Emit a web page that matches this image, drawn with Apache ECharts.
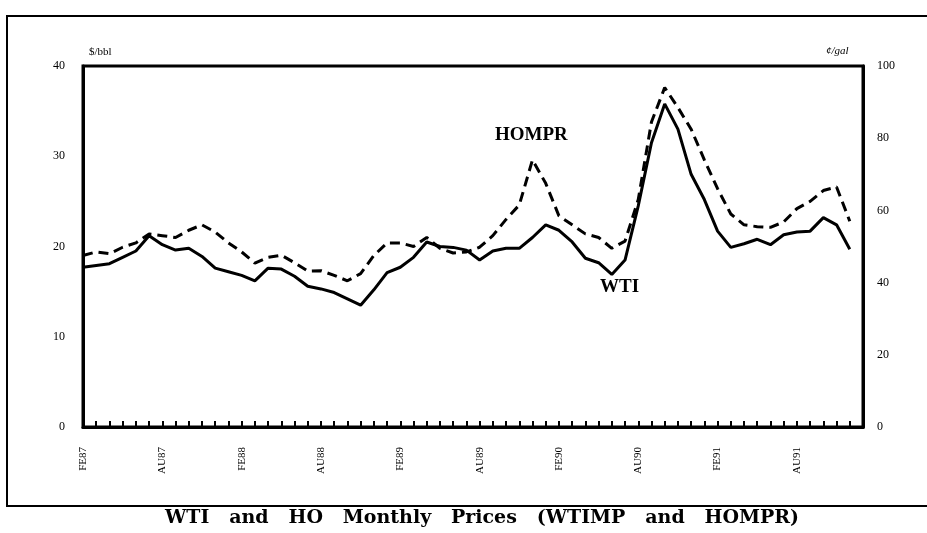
<!DOCTYPE html>
<html>
<head>
<meta charset="utf-8">
<title>WTI and HO Monthly Prices</title>
<script src="https://cdn.jsdelivr.net/npm/echarts@6/dist/echarts.min.js"></script>
<style>
    html, body { margin: 0; padding: 0; background: #fff; }
    #chart { width: 927px; height: 533px; }
</style>
</head>
<body>
<div id="chart"></div>
<script>
    // months, Feb 1987 .. Jan 1992
    var months = [
        'FE87','MR87','AP87','MY87','JN87','JL87','AU87','SE87','OC87','NO87','DE87',
        'JA88','FE88','MR88','AP88','MY88','JN88','JL88','AU88','SE88','OC88','NO88','DE88',
        'JA89','FE89','MR89','AP89','MY89','JN89','JL89','AU89','SE89','OC89','NO89','DE89',
        'JA90','FE90','MR90','AP90','MY90','JN90','JL90','AU90','SE90','OC90','NO90','DE90',
        'JA91','FE91','MR91','AP91','MY91','JN91','JL91','AU91','SE91','OC91','NO91','DE91',
        'JA92'
    ];

    // WTI, $/bbl (left axis)
    var wti = [
        17.7, 17.9, 18.1, 18.8, 19.5, 21.2, 20.2, 19.6, 19.8, 18.9, 17.6, 17.2,
        16.8, 16.2, 17.6, 17.5, 16.7, 15.6, 15.3, 14.9, 14.2, 13.5, 15.2, 17.1,
        17.7, 18.8, 20.5, 20.0, 19.9, 19.6, 18.5, 19.5, 19.8, 19.8, 21.0, 22.4,
        21.8, 20.5, 18.7, 18.2, 16.9, 18.5, 24.5, 31.5, 35.8, 33.0, 28.0, 25.2,
        21.7, 19.9, 20.3, 20.8, 20.2, 21.3, 21.6, 21.7, 23.2, 22.4, 19.7, null
    ];

    // HOMPR, cents/gal (right axis)
    var hompr = [
        47.5, 48.5, 48.0, 49.8, 51.0, 53.5, 53.0, 52.5, 54.5, 56.0, 54.0, 51.0,
        48.5, 45.4, 47.0, 47.6, 45.5, 43.2, 43.3, 42.0, 40.5, 42.5, 47.5, 51.0,
        51.0, 50.0, 52.5, 49.5, 48.2, 48.5, 49.8, 53.0, 57.5, 61.5, 74.0, 67.5,
        58.5, 56.0, 53.5, 52.5, 49.5, 51.5, 63.0, 84.5, 94.0, 88.5, 82.5, 74.0,
        66.0, 59.0, 56.0, 55.5, 55.3, 56.8, 60.5, 62.5, 65.5, 66.5, 57.0, null
    ];

    var chart = echarts.init(document.getElementById('chart'));

    var axisLine = { show: true, lineStyle: { color: '#000', width: 3 } };
    var tickFont = { color: '#000', fontFamily: 'Liberation Serif', fontSize: 12 };

    chart.setOption({
        backgroundColor: '#fff',
        animation: false,
        grid: {
            left: 83, right: 64, top: 66, bottom: 106,
            show: true, borderColor: '#000', borderWidth: 3
        },
        xAxis: {
            type: 'category',
            data: months,
            boundaryGap: false,
            axisLine: axisLine,
            axisTick: {
                inside: true, interval: 0, length: 6,
                lineStyle: { color: '#000', width: 2 }
            },
            axisLabel: {
                interval: 5, rotate: 90, margin: 20,
                color: '#000', fontFamily: 'Liberation Sans Narrow', fontSize: 11
            },
            splitLine: { show: false }
        },
        yAxis: [
            {
                type: 'value', min: 0, max: 40, interval: 10,
                axisLine: axisLine,
                axisTick: { inside: true, length: 8, lineStyle: { color: '#000', width: 2 } },
                axisLabel: Object.assign({ margin: 18 }, tickFont),
                splitLine: { show: false }
            },
            {
                type: 'value', min: 0, max: 100, interval: 20,
                position: 'right',
                axisLine: axisLine,
                axisTick: { inside: true, length: 8, lineStyle: { color: '#000', width: 2 } },
                axisLabel: Object.assign({ margin: 14 }, tickFont),
                splitLine: { show: false }
            }
        ],
        series: [
            {
                name: 'WTI', type: 'line', data: wti,
                showSymbol: false,
                lineStyle: { color: '#000', width: 3 }
            },
            {
                name: 'HOMPR', type: 'line', data: hompr, yAxisIndex: 1,
                showSymbol: false,
                lineStyle: { color: '#000', width: 3, type: [10, 6] }
            }
        ],
        graphic: [
            {
                type: 'polyline', silent: true,
                shape: { points: [[927, 16], [7, 16], [7, 506], [927, 506]] },
                style: { stroke: '#000', lineWidth: 2, fill: null }
            },
            {
                type: 'text', left: 89, top: 47,
                style: { text: '$/bbl', font: '11px "Liberation Sans Narrow"', fill: '#000' }
            },
            {
                type: 'text', left: 826, top: 46,
                style: { text: '¢/gal', font: 'italic 11px "Liberation Serif"', fill: '#000' }
            },
            {
                type: 'text', left: 495, top: 126,
                style: { text: 'HOMPR', font: 'bold 19px "Liberation Serif"', fill: '#000' }
            },
            {
                type: 'text', left: 600, top: 278,
                style: { text: 'WTI', font: 'bold 19px "Liberation Serif"', fill: '#000' }
            },
            {
                type: 'text', left: 165, top: 509,
                style: {
                    text: 'WTI   and   HO   Monthly   Prices   (WTIMP   and   HOMPR)',
                    font: 'bold 19px "DejaVu Serif"', fill: '#000'
                }
            }
        ]
    });
</script>
</body>
</html>
